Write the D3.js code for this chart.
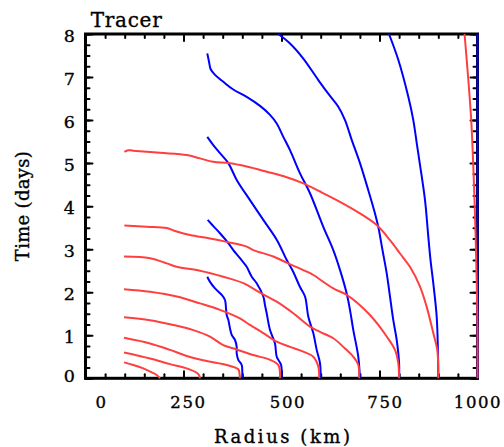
<!DOCTYPE html>
<html>
<head>
<meta charset="utf-8">
<script src="https://cdn.jsdelivr.net/npm/d3@7"></script>
<style>
  html, body { margin: 0; padding: 0; background: #fff; }
  svg { display: block; }
  text { font-family: "DejaVu Serif", serif; fill: #000; stroke: #000; stroke-width: 0.35px; }
</style>
</head>
<body>
<svg id="chart" width="504" height="447"></svg>
<script>
// Tracer trajectories: [radius (km), time (days)]
const tracer400 = [[310.7,2.36],[317.6,2.24],[330.4,2.09],[347.4,1.94],[355.9,1.82],[358.4,1.63],[360.2,1.47],[364.3,1.36],[368.6,1.16],[373,1.01],[381.4,0.89],[385.7,0.73],[385.7,0.58],[389.8,0.43],[398.5,0.31],[400,0.15],[400,0]];
const tracer500 = [[311.7,3.68],[327.8,3.52],[343.1,3.37],[364.3,3.14],[377,2.98],[394.1,2.79],[411.2,2.59],[424,2.36],[436.7,2.21],[453.6,1.90],[457.9,1.70],[462.2,1.51],[470.7,1.12],[483.4,0.81],[487.8,0.50],[499,0.31],[500,0]];
const tracer600 = [[310.7,5.61],[326,5.42],[343.1,5.23],[364.3,5.00],[385.7,4.61],[419.6,4.14],[453.6,3.68],[487.8,3.22],[513.3,2.75],[530.1,2.47],[547.2,2.12],[560,1.90],[568.4,1.43],[581.1,1.05],[589.8,0.66],[598.2,0.35],[600,0]];
const tracer700 = [[310.7,7.55],[315,7.36],[319.4,7.18],[330.4,7.05],[351.5,6.89],[377,6.71],[411.2,6.54],[445.2,6.33],[470.7,6.12],[487.8,5.92],[504.6,5.61],[521.7,5.30],[547.2,4.76],[572.7,4.30],[606.6,3.52],[632.1,2.98],[649.2,2.52],[666.3,1.97],[674.7,1.59],[683.2,1.12],[695.9,0.50],[700,0]];
const tracer800 = [[491.8,8.0],[521.7,7.78],[555.6,7.43],[593.9,6.93],[623.7,6.56],[644.9,6.31],[662,6.00],[679.1,5.54],[700.2,5.00],[721.4,4.37],[738.5,3.83],[746.9,3.52],[757.6,2.98],[768.4,2.44],[776.8,1.90],[785.2,1.35],[793.9,0.89],[800,0.35],[800,0]];
const tracer900 = [[774.2,8.0],[797.9,7.40],[823.5,6.54],[836.2,6.00],[845.7,5.42],[853.3,4.96],[866.1,4.14],[874.5,3.29],[880.1,2.75],[887.2,2.21],[895.9,1.43],[899,0.66],[900,0]];
const tracer1000 = [[1000,0],[1000,8]];

// Front curves: [radius (km), time (days)]
const front1 = [[98.2,0.37],[121.9,0.31],[147.4,0.23],[168.9,0.14],[181.6,0.077],[190,0]];
const front2 = [[98.2,0.60],[164.5,0.46],[215.6,0.33],[258.2,0.23],[283.7,0.13],[289.5,0.077],[292,0]];
const front3 = [[98.2,0.94],[164.5,0.81],[215.6,0.66],[258.2,0.52],[309.2,0.40],[360.2,0.31],[389.8,0.21],[392.9,0.10],[394,0]];
const front4 = [[98.2,1.42],[164.5,1.35],[224,1.24],[275,1.12],[317.6,0.97],[351.5,0.77],[385.7,0.67],[428,0.54],[470.7,0.43],[491.8,0.31],[496,0.15],[496,0]];
const front5 = [[98.2,2.07],[164.5,2.01],[232.7,1.90],[292.1,1.74],[343.1,1.59],[394.1,1.39],[419.6,1.24],[453.6,1.05],[487.8,0.85],[521.7,0.73],[555.6,0.62],[581.1,0.50],[593.9,0.27],[596,0]];
const front6 = [[98.2,2.83],[164.5,2.79],[207.1,2.67],[232.7,2.59],[292.1,2.50],[351.5,2.36],[402.6,2.21],[445.2,1.99],[487.8,1.78],[530.1,1.51],[572.7,1.20],[598.2,1.08],[632.1,0.93],[657.6,0.73],[683.2,0.50],[695.9,0.31],[698,0]];
const front7 = [[99.2,3.55],[156.1,3.52],[207.1,3.49],[232.7,3.41],[266.6,3.33],[317.6,3.25],[360.2,3.17],[411.2,3.06],[428,2.98],[479.1,2.83],[517.3,2.67],[564.3,2.48],[581.1,2.40],[632.1,2.09],[666.3,1.94],[700.2,1.70],[725.7,1.47],[746.9,1.24],[768.4,0.97],[789.5,0.66],[797.9,0.35],[800,0]];
const front8 = [[99.2,5.26],[109.2,5.30],[121.2,5.29],[190,5.24],[258.2,5.19],[292.1,5.11],[326,5.03],[364.3,5.00],[411.2,4.92],[462.2,4.80],[513.3,4.67],[555.6,4.53],[598.2,4.34],[649.2,4.10],[700.2,3.83],[742.8,3.56],[776.8,3.21],[802.3,2.90],[827.7,2.59],[853.3,2.13],[870.4,1.66],[887.2,1.05],[897.4,0.66],[900,0]];
const front9 = [[967,8],[976,7],[984,6],[989,5],[993,4],[996,3],[998.5,2],[1000,1],[1000,0]];

// Axis ticks
const xMajorTicks = [0, 250, 500, 750, 1000];
const xMinorTicks = d3.range(0, 1001, 50);
const yMajorTicks = [0, 1, 2, 3, 4, 5, 6, 7, 8];
const yMinorTicks = d3.range(0, 8.001, 0.25);

const tracers = [tracer400, tracer500, tracer600, tracer700, tracer800, tracer900, tracer1000];
const fronts = [front1, front2, front3, front4, front5, front6, front7, front8, front9];

const svg = d3.select("#chart");
const plotL = 85.5, plotR = 477.5, plotT = 34, plotB = 378.3;

const x = d3.scaleLinear().domain([0, 1000]).range([plotL, plotR]);
const y = d3.scaleLinear().domain([0, 8]).range([plotB, plotT]);

// Inward-pointing ticks on all four sides
function tickAxis(axisFn, scale, values, size, transform) {
  const g = svg.append("g")
    .attr("transform", transform)
    .call(axisFn(scale).tickValues(values).tickSize(-size).tickFormat(""));
  g.select(".domain").remove();
  g.selectAll(".tick line").attr("stroke", "#000").attr("stroke-width", 2).attr("stroke-linecap", "round");
  return g;
}

tickAxis(d3.axisBottom, x, xMinorTicks, 4, `translate(0,${plotB})`);
tickAxis(d3.axisBottom, x, xMajorTicks, 7, `translate(0,${plotB})`);
tickAxis(d3.axisTop, x, xMinorTicks, 4, `translate(0,${plotT})`);
tickAxis(d3.axisTop, x, xMajorTicks, 7, `translate(0,${plotT})`);
tickAxis(d3.axisLeft, y, yMinorTicks, 4, `translate(${plotL},0)`);
tickAxis(d3.axisLeft, y, yMajorTicks, 7, `translate(${plotL},0)`);
tickAxis(d3.axisRight, y, yMinorTicks, 4, `translate(${plotR},0)`);
tickAxis(d3.axisRight, y, yMajorTicks, 7, `translate(${plotR},0)`);

// Frame
svg.append("rect")
  .attr("x", plotL).attr("y", plotT)
  .attr("width", plotR - plotL).attr("height", plotB - plotT)
  .attr("fill", "none").attr("stroke", "#000").attr("stroke-width", 3);

// Tick labels
const xLabelShift = { 0: 16, 250: 5, 500: 6.5, 750: 6, 1000: 0.5 };
svg.append("g").selectAll("text")
  .data(xMajorTicks).join("text")
  .attr("x", d => x(d) + xLabelShift[d])
  .attr("y", plotB + 30)
  .attr("text-anchor", "middle")
  .attr("font-size", 16.5)
  .attr("letter-spacing", 1.6)
  .text(d => d);

const yLabelShift = { 0: -3 };
svg.append("g").selectAll("text")
  .data(yMajorTicks).join("text")
  .attr("x", 75)
  .attr("y", d => y(d) + (yLabelShift[d] || 1.5))
  .attr("dy", "0.36em")
  .attr("text-anchor", "end")
  .attr("font-size", 17.5)
  .text(d => d);

// Titles
svg.append("text")
  .attr("x", 90.7).attr("y", 27.3)
  .attr("font-size", 20)
  .attr("textLength", 71).attr("lengthAdjust", "spacing")
  .text("Tracer");

svg.append("text")
  .attr("x", 282).attr("y", 443)
  .attr("text-anchor", "middle")
  .attr("font-size", 18)
  .attr("textLength", 136).attr("lengthAdjust", "spacing")
  .text("Radius (km)");

svg.append("text")
  .attr("transform", `translate(28.5,${(plotT + plotB) / 2}) rotate(-90)`)
  .attr("text-anchor", "middle")
  .attr("font-size", 18)
  .attr("textLength", 110).attr("lengthAdjust", "spacing")
  .text("Time (days)");

// Curves
const line = d3.line()
  .x(d => x(d[0]))
  .y(d => y(d[1]))
  .curve(d3.curveCatmullRom.alpha(0.5));

svg.append("g").selectAll("path")
  .data(tracers).join("path")
  .attr("d", line)
  .attr("fill", "none")
  .attr("stroke", "#0000ff")
  .attr("stroke-width", 2);

svg.append("g").selectAll("path")
  .data(fronts).join("path")
  .attr("d", line)
  .attr("fill", "none")
  .attr("stroke", "#ff3f3f")
  .attr("stroke-width", 2);
</script>
</body>
</html>
